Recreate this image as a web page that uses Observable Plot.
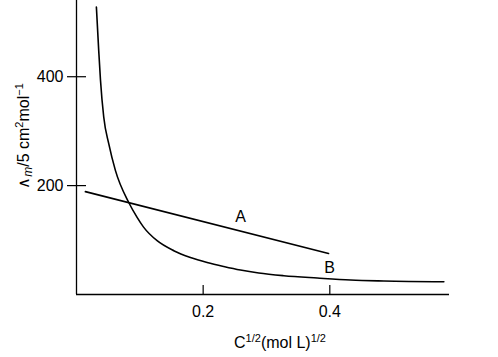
<!DOCTYPE html>
<html><head><meta charset="utf-8">
<script src="https://cdn.jsdelivr.net/npm/d3@7"></script>
<script src="https://cdn.jsdelivr.net/npm/@observablehq/plot@0.6"></script>
<style>body{margin:0;background:#fff} svg{display:block}</style>
</head><body><div id="chart"></div>
<script>
// Line A (straight)
const lineAX = [0.014, 0.398];
const lineAY = [189, 75.4];
// Curve B
const curveBX = [0.0314, 0.0351, 0.0378, 0.0430, 0.0509, 0.0614, 0.0825, 0.0957, 0.1062, 0.1273, 0.1536, 0.1799, 0.2063, 0.2325, 0.2589, 0.2878, 0.3273, 0.3801, 0.4327, 0.4853, 0.5801];
const curveBY = [528, 448, 395, 326, 277, 228, 169, 141.7, 123.3, 98.8, 80.5, 68.1, 58.9, 51.5, 44.9, 39.4, 34.5, 30.2, 26.5, 24.8, 23.4];
// tick values
const xTicks = [0.2, 0.4];
const yTicks = [200, 400];
// curve labels
const curveNames = ["A", "B"];
const curveLabelX = [0.259, 0.3995];
const curveLabelY = [141.7, 49];

const font = "'Liberation Sans', Arial, Helvetica, sans-serif";
const idxB = curveBX.map((_, i) => i);
const idxA = lineAX.map((_, i) => i);
const idxL = curveNames.map((_, i) => i);

const plot = Plot.plot({
  width: 498,
  height: 357,
  marginLeft: 76,
  marginRight: 49,
  marginTop: 0,
  marginBottom: 63,
  style: {fontFamily: font, fontSize: "16px", background: "#fff", color: "#000"},
  x: {domain: [0, 0.589]},
  y: {domain: [0, 540]},
  marks: [
    Plot.ruleX([0], {stroke: "#000", strokeWidth: 1.3}),
    Plot.ruleY([0], {stroke: "#000", strokeWidth: 1.3}),
    Plot.axisY({ticks: yTicks, tickSize: 19, dx: 10, tickFormat: () => "", label: null, stroke: "#000", strokeWidth: 1.2}),
    Plot.axisY({ticks: yTicks, tickSize: 0, tickPadding: 13, tickFormat: d => String(d), label: null, fontSize: 16, fill: "#000"}),
    Plot.axisX({ticks: xTicks, tickSize: 9, dy: -9, tickFormat: () => "", label: null, stroke: "#000", strokeWidth: 1.2}),
    Plot.axisX({ticks: xTicks, tickSize: 0, tickPadding: 11, tickFormat: d => String(d), label: null, fontSize: 16, fill: "#000"}),
    Plot.line(idxB, {x: i => curveBX[i], y: i => curveBY[i], curve: "monotone-x", stroke: "#000", strokeWidth: 1.6}),
    Plot.line(idxA, {x: i => lineAX[i], y: i => lineAY[i], stroke: "#000", strokeWidth: 1.6}),
    Plot.text(idxL, {x: i => curveLabelX[i], y: i => curveLabelY[i], text: i => curveNames[i], fontSize: 16, fill: "#000"})
  ]
});

const svg = d3.select(plot);
// x-axis title
const xt = svg.append("text")
  .attr("x", 280).attr("y", 348)
  .attr("text-anchor", "middle")
  .attr("font-family", font).attr("font-size", 16).attr("fill", "#000");
xt.append("tspan").text("C");
xt.append("tspan").attr("font-size", 11).attr("dy", -6).text("1/2");
xt.append("tspan").attr("dy", 6).text("(mol L)");
xt.append("tspan").attr("font-size", 11).attr("dy", -6).text("1/2");

// y-axis title
const yt = svg.append("text")
  .attr("transform", "translate(29,136) rotate(-90)")
  .attr("text-anchor", "middle")
  .attr("font-family", font).attr("font-size", 16).attr("fill", "#000");
yt.append("tspan").text("\u2227");
yt.append("tspan").attr("font-size", 12).attr("font-style", "italic").attr("dy", 3).text("m");
yt.append("tspan").attr("dy", -3).text("/5 cm");
yt.append("tspan").attr("font-size", 11).attr("dy", -6).text("2");
yt.append("tspan").attr("dy", 6).text("mol");
yt.append("tspan").attr("font-size", 11).attr("dy", -6).text("\u22121");

document.getElementById("chart").appendChild(plot);
</script>
</body></html>
